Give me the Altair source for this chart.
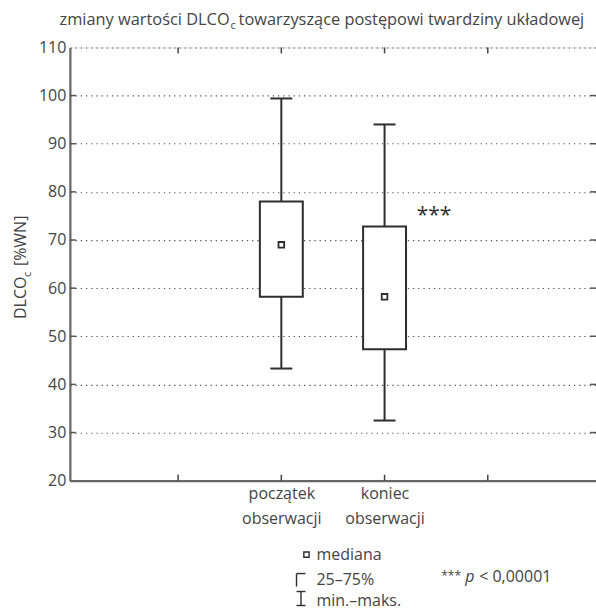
import json
import altair as alt
import pandas as pd

# ---- data ----
positions = [2, 3]
label_lines = [["początek", "obserwacji"], ["koniec", "obserwacji"]]
mins = [43.3, 32.5]
q1s = [58.2, 47.3]
medians = [69.0, 58.2]
q3s = [78.0, 72.8]
maxs = [99.4, 94.0]
x_ticks = [1, 2, 3, 4]
y_ticks = [30, 40, 50, 60, 70, 80, 90, 100]
y_axis_values = [20, 30, 40, 50, 60, 70, 80, 90, 100, 110]
star_pos = [3.48]
star_val = [75.0]

W, H = 527, 434
FONT = "Open Sans"
TXT = "#444"
LINE = "#2e2e2e"

box_df = pd.DataFrame({"pos": positions, "min": mins, "q1": q1s,
                       "med": medians, "q3": q3s, "max": maxs})

expr = "''"
for p, lines in reversed(list(zip(positions, label_lines))):
    expr = f"datum.value == {p} ? {json.dumps(lines, ensure_ascii=False)} : {expr}"

x_axis = alt.Axis(values=x_ticks, ticks=False, grid=False, title=None,
                  labelExpr=expr, labelFont=FONT, labelFontSize=16,
                  labelColor=TXT, labelPadding=5, labelLineHeight=25,
                  labelBaseline="top",
                  domainColor="#666", domainWidth=2.2)
y_axis = alt.Axis(values=y_axis_values, ticks=False, grid=True, title=None,
                  gridDash=[1.3, 3.9], gridColor="#555", gridWidth=1.1,
                  labelFont=FONT, labelFontSize=16, labelColor=TXT,
                  labelPadding=4, domainColor="#666", domainWidth=2.2)

xs = alt.Scale(domain=[0, 5], nice=False, zero=False)
ys = alt.Scale(domain=[20, 110], nice=False, zero=False)

X = alt.X("pos:Q", scale=xs, axis=x_axis)

base = alt.Chart(box_df)

whisk_lo = base.mark_rule(color=LINE, strokeWidth=2).encode(
    x=X, y=alt.Y("min:Q", scale=ys, axis=y_axis), y2="q1:Q")
whisk_hi = base.mark_rule(color=LINE, strokeWidth=2).encode(
    x=X, y=alt.Y("q3:Q", scale=ys, axis=y_axis), y2="max:Q")
cap_lo = base.mark_tick(orient="horizontal", size=22, thickness=2,
                        color=LINE, opacity=1).encode(
    x=X, y=alt.Y("min:Q", scale=ys, axis=y_axis))
cap_hi = base.mark_tick(orient="horizontal", size=22, thickness=2,
                        color=LINE, opacity=1).encode(
    x=X, y=alt.Y("max:Q", scale=ys, axis=y_axis))
boxes = base.mark_bar(size=43, fill="white", stroke=LINE,
                      strokeWidth=2).encode(
    x=X, y=alt.Y("q1:Q", scale=ys, axis=y_axis), y2="q3:Q")
meds = base.mark_point(shape="square", size=32, filled=False, fill="white",
                       stroke=LINE, strokeWidth=1.8, opacity=1).encode(
    x=X, y=alt.Y("med:Q", scale=ys, axis=y_axis))

# inner ticks on all four sides
xt = pd.DataFrame({"t": x_ticks})
yt = pd.DataFrame({"t": y_ticks})
XT = alt.X("t:Q", scale=xs, axis=x_axis)
YT = alt.Y("t:Q", scale=ys, axis=y_axis)
tick_top = alt.Chart(xt).mark_rule(color="#444", strokeWidth=1.5).encode(
    x=XT, y=alt.value(0), y2=alt.value(6))
tick_bot = alt.Chart(xt).mark_rule(color="#444", strokeWidth=1.5).encode(
    x=XT, y=alt.value(H - 6), y2=alt.value(H))
tick_left = alt.Chart(yt).mark_rule(color="#555", strokeWidth=1.5).encode(
    y=YT, x=alt.value(0), x2=alt.value(6))
tick_right = alt.Chart(yt).mark_rule(color="#555", strokeWidth=1.5).encode(
    y=YT, x=alt.value(W - 6), x2=alt.value(W))

stars = alt.Chart(pd.DataFrame({"pos": star_pos, "v": star_val})).mark_text(
    text="***", font=FONT, fontSize=21, color=LINE, baseline="middle",
    align="center").encode(x=X, y=alt.Y("v:Q", scale=ys, axis=y_axis))

def txt(s, x, y, size=16, align="left", angle=0, style="normal",
        baseline="alphabetic", color=TXT):
    return alt.Chart(pd.DataFrame({"s": [s]})).mark_text(
        font=FONT, fontSize=size, align=align, angle=angle, fontStyle=style,
        baseline=baseline, color=color).encode(
        text="s:N", x=alt.value(x), y=alt.value(y))

title_parts = [
    txt("zmiany wartości DLCO", 160, -22, 16.4, "right"),
    txt("c", 161, -18, 11),
    txt("towarzyszące postępowi twardziny układowej", 169, -22, 16.4),
]
ytitle_parts = [
    txt("DLCO", -44, 272, 16, "left", 270),
    txt("c", -39, 230, 11, "left", 270),
    txt("[%WN]", -44, 219, 16, "left", 270),
]

# legend glyphs (decoration)
lg = pd.DataFrame({"a": [0]})
def seg(x1, y1, x2, y2):
    return alt.Chart(lg).mark_rule(color=LINE, strokeWidth=1.4).encode(
        x=alt.value(x1), x2=alt.value(x2), y=alt.value(y1), y2=alt.value(y2))

legend = [
    alt.Chart(lg).mark_point(shape="square", size=28, filled=False,
                             stroke=LINE, strokeWidth=1.4, opacity=1).encode(
        x=alt.value(237), y=alt.value(508)),
    txt("mediana", 247, 508, 16, baseline="middle"),
    seg(227, 527, 236, 527), seg(227, 527, 227, 540),
    txt("25–75%", 247, 533, 16, baseline="middle"),
    seg(227, 545, 236, 545), seg(227, 559, 236, 559), seg(231.5, 545, 231.5, 559),
    txt("min.–maks.", 247, 555, 16, baseline="middle"),
    txt("***", 372, 529, 12, baseline="middle"),
    txt("p", 396, 530, 16, style="italic", baseline="middle"),
    txt("< 0,00001", 410, 530, 16, baseline="middle"),
]

chart = alt.layer(
    whisk_lo, whisk_hi, cap_lo, cap_hi, boxes, meds,
    tick_top, tick_bot, tick_left, tick_right, stars,
    *title_parts, *ytitle_parts, *legend
).properties(
    width=W, height=H,
    autosize=alt.AutoSizeParams(type="none"),
    padding={"left": 70, "top": 47, "right": 0, "bottom": 130},
).configure_view(stroke="#444", strokeWidth=1.5).configure(background="white")

chart.save("out.html", embed_options={"renderer": "svg", "actions": False})
